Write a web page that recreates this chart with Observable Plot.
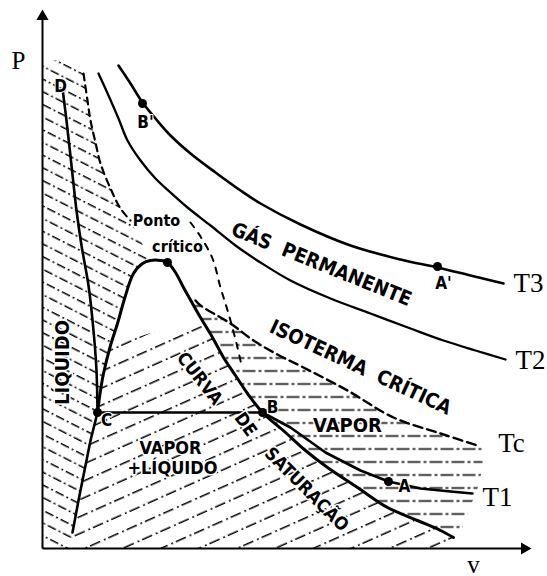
<!DOCTYPE html>
<html><head><meta charset="utf-8">
<script src="https://cdn.jsdelivr.net/npm/d3@7"></script>
<script src="https://cdn.jsdelivr.net/npm/@observablehq/plot@0.6"></script>
<style>body{margin:0;background:#fff}</style>
</head><body><div id="chart"></div>
<script>
// Values in arbitrary units: v (volume) and P (pressure)
const isoT3 = [[76,483],[88,465],[100,446],[113,430],[128,413],[148,395],[173,376],[198,358],[218,345],[258,324],[308,303],[358,289],[395,281],[428,273],[461,265]];
const isoT2 = [[56,475],[66,453],[76,430],[85,408],[98,388],[113,370],[128,356],[145,341],[168,323],[193,303],[218,286],[248,268],[288,250],[328,235],[368,220],[401,208],[433,198],[463,189]];
const isoTcUpper = [[41,475],[45,448],[48,428],[53,406],[58,385],[68,360],[78,340],[88,328]];
const isoTcLower = [[153,248],[158,243],[188,225],[211,208],[235,194],[261,181],[305,158],[351,131],[398,115],[435,103]];
const dashedMid = [[148,326],[158,312],[170,290],[178,261],[186,235],[195,201],[199,183]];
const satCurve = [[55,136],[58,158],[61,175],[68,203],[75,225],[83,253],[91,275],[100,285],[108,288],[118,288],[125,286],[133,276],[141,261],[150,245],[158,231],[170,211],[181,191],[193,173],[205,155],[220,136],[243,116],[263,98],[285,81],[315,61],[345,41],[375,28],[398,18],[411,11]];
const isoT1 = [[55,136],[220,136],[248,121],[283,96],[318,78],[346,67],[378,60],[408,57],[430,55]];
const liquidLine = [[20,460],[24,428],[29,383],[34,338],[39,303],[46,263],[51,218],[54,178],[55,136]];
const lowerLine = [[55,136],[48,108],[42,78],[36,48],[30,16]];
const vaporEdge = [[440,100],[440,80],[435,60],[425,35],[418,16]];

const pointNames = ["B'", "Crit", "B", "C", "A", "A'"];
const pointV = [100, 125, 220, 55, 346, 395];
const pointP = [445, 286, 136, 136, 67, 282];

const letterNames = ["B'", "A'", "D", "C", "B", "A"];
const letterV = [103, 401, 18, 64, 230, 362];
const letterP = [426, 265, 462, 128, 141, 62];

const isoNames = ["T3", "T2", "Tc", "T1"];
const isoV = [486, 488, 469, 455];
const isoP = [265, 188, 105, 51];

const axisNames = ["P", "v"];
const axisV = [-24, 431];
const axisP = [488, -16];

const regionNames = ["GÁS  PERMANENTE", "ISOTERMA  CRÍTICA", "VAPOR", "LÍQUIDO", "CURVA", "DE", "SATURAÇÃO"];
const regionV = [279, 318, 305, 20, 157, 203, 264];
const regionP = [284, 181, 123, 186, 170, 124, 59];
const regionRot = [22, 25, 0, -90, 52, 55, 45];

const mixNames = ["VAPOR", "+LÍQUIDO"];
const mixV = [128, 130];
const mixP = [100, 80];

const critNames = ["Ponto", "crítico"];
const critV = [114, 135];
const critP = [328, 302];

// regions built from the curves
const liquidRegion = [[0,488],[16,488], ...isoTcUpper, ...satCurve.slice(0,9).reverse(), ...lowerLine, [28,0],[0,0]];
const twoPhaseRegion = [...satCurve.slice(0,4), ...satCurve.slice(14), [420,0],[28,0], ...lowerLine.slice().reverse()];
const vaporRegion = [...isoTcLower, ...vaporEdge, ...satCurve.slice(13).reverse()];

const X = d => d[0], Y = d => d[1];
const idx = a => a.map((_, i) => i);
const sans = "DejaVu Sans Condensed, DejaVu Sans, sans-serif";

const chart = Plot.plot({
  width: 547, height: 576,
  marginLeft: 42, marginRight: 19, marginTop: 10, marginBottom: 28,
  x: {domain: [0, 486], axis: null},
  y: {domain: [0, 538], axis: null},
  style: {background: "white", color: "black"},
  marks: [
    Plot.line(liquidRegion, {x: X, y: Y, fill: "url(#hatchLiquid)", stroke: "none"}),
    Plot.line(twoPhaseRegion, {x: X, y: Y, fill: "url(#hatchTwo)", stroke: "none"}),
    Plot.line(vaporRegion, {x: X, y: Y, fill: "url(#hatchVapor)", stroke: "none"}),
    // axes
    Plot.link([0], {x1: 0, y1: 0, x2: 0, y2: 530, stroke: "black", strokeWidth: 2}),
    Plot.link([0], {x1: 0, y1: 0, x2: 480, y2: 0, stroke: "black", strokeWidth: 2}),
    Plot.dot([0], {x: 0, y: 532, symbol: "triangle", r: 4.5, fill: "black", stroke: "none"}),
    Plot.dot([0], {x: 482, y: 0, symbol: "triangle", r: 4.5, rotate: 90, fill: "black", stroke: "none"}),
    // curves
    Plot.line(isoT3, {x: X, y: Y, curve: "catmull-rom", strokeWidth: 2.6}),
    Plot.line(isoT2, {x: X, y: Y, curve: "catmull-rom", strokeWidth: 2.3}),
    Plot.line(isoTcUpper, {x: X, y: Y, curve: "catmull-rom", strokeWidth: 2.2, strokeDasharray: "7,5"}),
    Plot.line(isoTcLower, {x: X, y: Y, curve: "catmull-rom", strokeWidth: 2.4, strokeDasharray: "9,5"}),
    Plot.line(dashedMid, {x: X, y: Y, curve: "catmull-rom", strokeWidth: 2, strokeDasharray: "6,7"}),
    Plot.line(satCurve, {x: X, y: Y, curve: "catmull-rom", strokeWidth: 3}),
    Plot.line(isoT1, {x: X, y: Y, strokeWidth: 2.6}),
    Plot.line(liquidLine, {x: X, y: Y, curve: "catmull-rom", strokeWidth: 2.6}),
    Plot.line(lowerLine, {x: X, y: Y, strokeWidth: 2.6}),
    Plot.dot(idx(pointNames), {x: i => pointV[i], y: i => pointP[i], r: 4.5, fill: "black", stroke: "none"}),
    // labels
    Plot.text(idx(letterNames), {x: i => letterV[i], y: i => letterP[i], text: i => letterNames[i], fontFamily: sans, fontWeight: "bold", fontSize: 17, fill: "black", stroke: "white", strokeWidth: 2}),
    Plot.text(idx(isoNames), {x: i => isoV[i], y: i => isoP[i], text: i => isoNames[i], fontFamily: "Liberation Serif", fontSize: 27, fill: "black"}),
    Plot.text(idx(axisNames), {x: i => axisV[i], y: i => axisP[i], text: i => axisNames[i], fontFamily: "Liberation Serif", fontSize: 25, fill: "black"}),
    Plot.text(idx(regionNames), {x: i => regionV[i], y: i => regionP[i], rotate: i => regionRot[i], text: i => regionNames[i], fontFamily: sans, fontWeight: "bold", fontSize: i => (i >= 4 ? 18 : 20), fill: "black", stroke: "white", strokeWidth: 3}),
    Plot.text(idx(mixNames), {x: i => mixV[i], y: i => mixP[i], text: i => mixNames[i], fontFamily: sans, fontWeight: "bold", fontSize: 18, fill: "black", stroke: "white", strokeWidth: 3}),
    Plot.text(idx(critNames), {x: i => critV[i], y: i => critP[i], text: i => critNames[i], fontFamily: sans, fontWeight: "bold", fontSize: 16, fill: "black", stroke: "white", strokeWidth: 3})
  ]
});

const defs = d3.select(chart).insert("defs", ":first-child");
function hatch(id, angle, w, h, dash, sw) {
  const p = defs.append("pattern").attr("id", id).attr("patternUnits", "userSpaceOnUse")
    .attr("width", w).attr("height", h * 2).attr("patternTransform", `rotate(${angle})`);
  p.append("line").attr("x1", 0).attr("x2", w).attr("y1", h / 2).attr("y2", h / 2)
    .attr("stroke", "black").attr("stroke-width", sw).attr("stroke-dasharray", dash);
  p.append("line").attr("x1", 0).attr("x2", w).attr("y1", h * 1.5).attr("y2", h * 1.5)
    .attr("stroke", "black").attr("stroke-width", sw).attr("stroke-dasharray", dash).attr("stroke-dashoffset", w / 2);
}
hatch("hatchLiquid", 27, 17, 11.3, "9 3 2 3", 1.4);
hatch("hatchTwo", -24, 20, 15.5, "11 4 2 3", 1.4);
hatch("hatchVapor", 0, 22, 13, "13 3 3 3", 1.4);

document.getElementById("chart").append(chart);
</script>
</body></html>
